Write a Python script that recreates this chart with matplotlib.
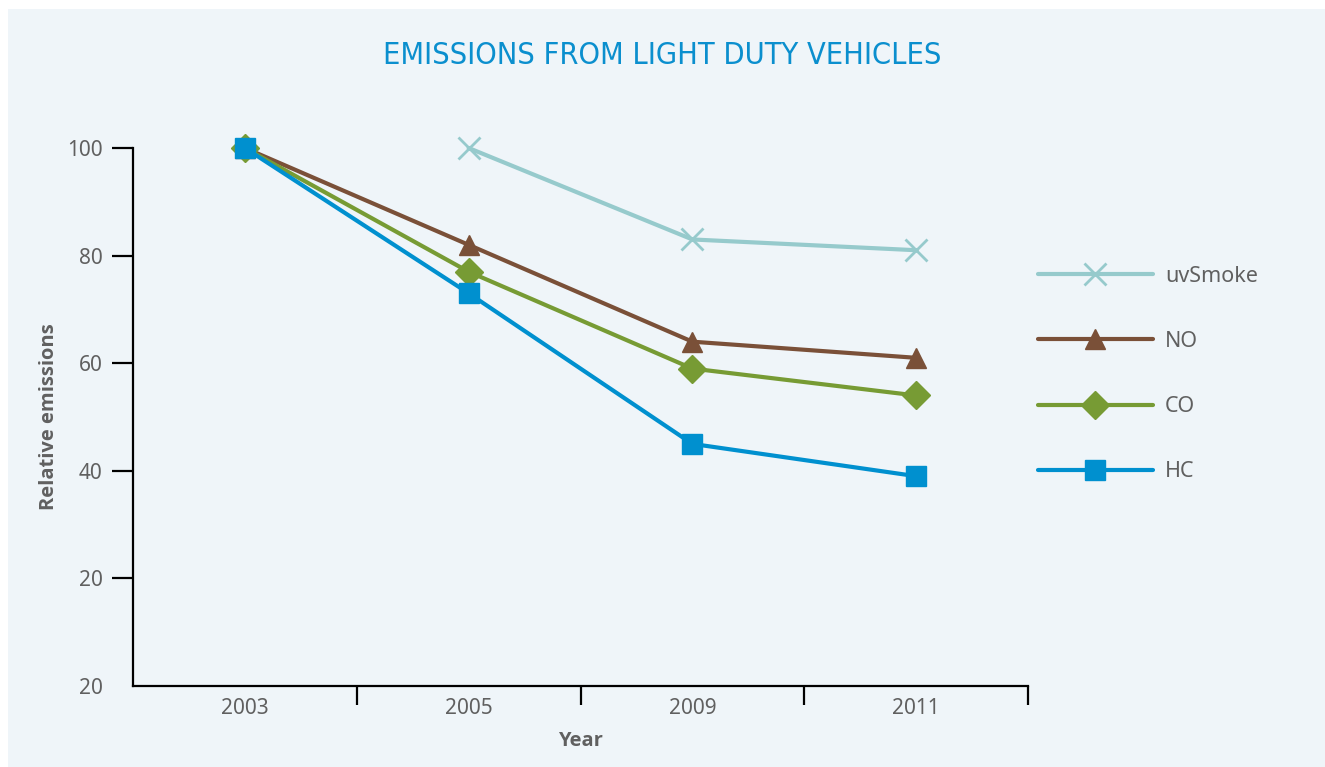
import matplotlib

matplotlib.use("Agg")
import matplotlib.pyplot as plt
from matplotlib.patches import Rectangle
from matplotlib.ticker import FixedLocator
import numpy as np

years = ["2003", "2005", "2009", "2011"]
uv_smoke = [np.nan, 100, 83, 81]
no_vals = [100, 82, 64, 61]
co_vals = [100, 77, 59, 54]
hc_vals = [100, 73, 45, 39]
series_names = ["uvSmoke", "NO", "CO", "HC"]
y_ticks = [0, 20, 40, 60, 80, 100]
y_tick_labels = ["20", "20", "40", "60", "80", "100"]

BG = "#eff5f9"
TEXT = "#606060"

plt.rcParams["font.family"] = ["Noto Sans", "DejaVu Sans"]


def build_plot():
    fig = plt.figure(figsize=(13.25, 7.67), dpi=100, facecolor="white")
    fig.patches.append(
        Rectangle((8 / 1325, 0), 1 - 8 / 1325, 1 - 9 / 767,
                  transform=fig.transFigure, facecolor=BG, edgecolor="none", zorder=-5)
    )
    ax = fig.add_axes([133 / 1325, 1 - 686 / 767, (1028 - 133) / 1325, (686 - 148) / 767])
    ax.set_facecolor("none")

    x = np.arange(len(years))
    styles = [
        dict(color="#96cacc", marker="x", markersize=16, markeredgewidth=2.0),
        dict(color="#7a5038", marker="^", markersize=15),
        dict(color="#779b34", marker="D", markersize=14),
        dict(color="#0090cf", marker="s", markersize=14),
    ]
    for name, vals, st in zip(series_names, [uv_smoke, no_vals, co_vals, hc_vals], styles):
        ax.plot(x, vals, linewidth=3, label=name, clip_on=False,
                solid_capstyle="round", **st)

    ax.set_xlim(-0.5, 3.5)
    ax.set_ylim(0, 100)
    ax.set_xticks(x)
    ax.set_xticklabels(years)
    ax.xaxis.set_minor_locator(FixedLocator([0.5, 1.5, 2.5, 3.5]))
    ax.tick_params(axis="x", which="major", length=0, pad=9, labelsize=15, labelcolor=TEXT)
    ax.tick_params(axis="x", which="minor", length=14, width=1.6, direction="out", color="black")
    ax.set_yticks(y_ticks)
    ax.set_yticklabels(y_tick_labels)
    ax.tick_params(axis="y", length=15, width=1.6, pad=7, labelsize=15, labelcolor=TEXT)
    ax.yaxis.get_major_ticks()[0].tick1line.set_visible(False)

    for side in ["top", "right"]:
        ax.spines[side].set_visible(False)
    for side in ["left", "bottom"]:
        ax.spines[side].set_linewidth(1.6)

    bold = dict(fontsize=14.5, fontweight="bold", color=TEXT, family=["Open Sans", "DejaVu Sans"])
    ax.set_xlabel("Year", labelpad=8, **bold)
    ax.set_ylabel("Relative emissions", labelpad=5.5, **bold)

    fig.text(0.5, 1 - 56 / 767, "EMISSIONS FROM LIGHT DUTY VEHICLES",
             ha="center", va="center", fontsize=22, color="#0b8fce",
             family="DejaVu Sans", fontstretch="condensed")

    ax.legend(loc="center left", bbox_to_anchor=(1038 / 1325, 1 - 374 / 767),
              bbox_transform=fig.transFigure, frameon=False, fontsize=15.5,
              handlelength=5.34, handletextpad=0.56, labelspacing=2.05,
              borderpad=0, borderaxespad=0, labelcolor=TEXT)
    return fig


def main() -> None:
    fig = build_plot()
    fig.savefig("out.png", dpi=100, facecolor=fig.get_facecolor())


if __name__ == "__main__":
    main()
